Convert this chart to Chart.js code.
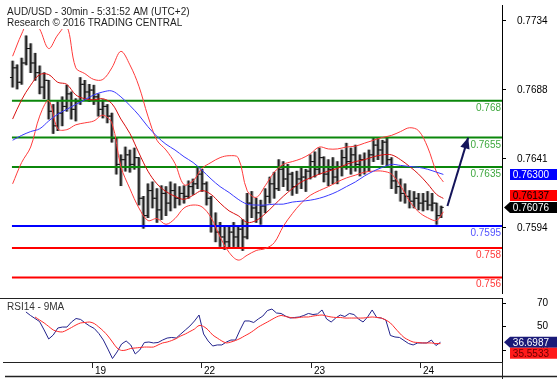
<!DOCTYPE html>
<html><head><meta charset="utf-8">
<script src="https://cdn.jsdelivr.net/npm/chart.js@4.4.1/dist/chart.umd.min.js"></script>
<style>
html,body{margin:0;padding:0;background:#fff;overflow:hidden}
#wrap{position:relative;width:557px;height:379px;background:#fff}
canvas{position:absolute;left:0}
#c1{top:0}
#c2{top:298px}
</style></head><body>
<div id="wrap"><canvas id="c1" width="557" height="298"></canvas><canvas id="c2" width="557" height="81"></canvas></div>
<script>
// ---------- DATA ----------
const titleLine1 = 'AUD/USD - 30min - 5:31:52 AM (UTC+2)';
const titleLine2 = 'Research \u00a9 2016 TRADING CENTRAL';
const rsiTitle = 'RSI14 - 9MA';

// hourly OHLC bars (bar number = 2 x position in list, 30-min units)
const opens = [0.76958,0.77024,0.76926,0.77057,0.77155,0.77057,0.76991,0.76893,0.76939,0.76729,
0.76630,0.76716,0.76762,0.76847,0.76742,0.76794,0.76912,0.76860,0.76873,0.76827,
0.76742,0.76762,0.76696,0.76545,0.76368,0.76400,0.76433,0.76368,0.76414,0.76138,
0.76020,0.76190,0.76138,0.76059,0.76171,0.76105,0.76190,0.76138,0.76171,0.76151,
0.76217,0.76236,0.76302,0.76236,0.76138,0.75954,0.75908,0.75875,0.75842,0.75908,
0.75875,0.75928,0.75875,0.76105,0.76072,0.76039,0.76085,0.76151,0.76236,0.76203,
0.76335,0.76269,0.76302,0.76217,0.76269,0.76282,0.76322,0.76387,0.76335,0.76414,
0.76302,0.76335,0.76282,0.76348,0.76414,0.76387,0.76433,0.76368,0.76400,0.76348,
0.76433,0.76499,0.76466,0.76519,0.76400,0.76256,0.76217,0.76171,0.76151,0.76118,
0.76138,0.76105,0.76118,0.76092,0.76105,0.76020];
const highs = [0.77070,0.77044,0.77090,0.77241,0.77188,0.77123,0.77037,0.76991,0.76939,0.76775,
0.76794,0.76827,0.76906,0.76860,0.76814,0.76958,0.76939,0.76912,0.76906,0.76847,
0.76807,0.76775,0.76716,0.76545,0.76433,0.76486,0.76466,0.76479,0.76414,0.76151,
0.76236,0.76249,0.76203,0.76223,0.76217,0.76249,0.76236,0.76217,0.76223,0.76256,
0.76269,0.76348,0.76335,0.76249,0.76151,0.76039,0.75974,0.75941,0.75954,0.75974,
0.75954,0.75993,0.76171,0.76184,0.76138,0.76125,0.76203,0.76282,0.76315,0.76400,
0.76387,0.76368,0.76315,0.76322,0.76354,0.76335,0.76433,0.76453,0.76479,0.76420,
0.76400,0.76414,0.76387,0.76466,0.76512,0.76479,0.76499,0.76433,0.76446,0.76466,
0.76545,0.76545,0.76532,0.76545,0.76414,0.76322,0.76269,0.76236,0.76190,0.76184,
0.76171,0.76171,0.76184,0.76171,0.76105,0.76085];
const lows = [0.76893,0.76880,0.76912,0.77044,0.76991,0.76939,0.76847,0.76814,0.76676,0.76578,
0.76597,0.76630,0.76729,0.76676,0.76663,0.76775,0.76807,0.76794,0.76775,0.76696,
0.76683,0.76650,0.76519,0.76302,0.76223,0.76322,0.76315,0.76335,0.76092,0.75934,
0.76006,0.76072,0.75974,0.75993,0.76020,0.76052,0.76072,0.76092,0.76105,0.76138,
0.76164,0.76203,0.76184,0.76092,0.75908,0.75842,0.75810,0.75790,0.75796,0.75810,
0.75796,0.75783,0.75862,0.76006,0.75974,0.75961,0.76039,0.76105,0.76138,0.76190,
0.76217,0.76190,0.76158,0.76171,0.76203,0.76184,0.76269,0.76282,0.76302,0.76249,
0.76223,0.76236,0.76236,0.76289,0.76335,0.76302,0.76322,0.76289,0.76302,0.76322,
0.76387,0.76400,0.76368,0.76354,0.76203,0.76171,0.76118,0.76105,0.76072,0.76072,
0.76059,0.76052,0.76059,0.76052,0.75961,0.76006];
const closes = [0.77024,0.76926,0.77057,0.77155,0.77057,0.76991,0.76893,0.76939,0.76729,0.76630,
0.76716,0.76762,0.76847,0.76742,0.76794,0.76912,0.76860,0.76873,0.76827,0.76742,
0.76762,0.76696,0.76545,0.76368,0.76400,0.76433,0.76368,0.76414,0.76138,0.76020,
0.76190,0.76138,0.76059,0.76171,0.76105,0.76190,0.76138,0.76171,0.76151,0.76217,
0.76236,0.76302,0.76236,0.76138,0.75954,0.75908,0.75875,0.75842,0.75908,0.75875,
0.75928,0.75875,0.76105,0.76072,0.76039,0.76085,0.76151,0.76236,0.76203,0.76335,
0.76269,0.76302,0.76217,0.76269,0.76282,0.76322,0.76387,0.76335,0.76414,0.76302,
0.76335,0.76282,0.76348,0.76414,0.76387,0.76433,0.76368,0.76400,0.76348,0.76433,
0.76499,0.76466,0.76519,0.76400,0.76256,0.76217,0.76171,0.76151,0.76118,0.76138,
0.76105,0.76118,0.76092,0.76105,0.76020,0.76076];

// indicator lines sampled every 4 bars (last sample = last bar)
const bbUpper = [0.77103,0.77254,0.77365,0.77287,0.77155,0.77247,0.77306,0.77024,0.76985,0.76945,
0.76945,0.77024,0.77136,0.77044,0.76899,0.76696,0.76532,0.76466,0.76374,0.76230,
0.76256,0.76341,0.76381,0.76414,0.76427,0.76414,0.76190,0.76144,0.76223,0.76315,
0.76368,0.76387,0.76407,0.76440,0.76486,0.76473,0.76473,0.76486,0.76492,0.76512,
0.76532,0.76551,0.76565,0.76591,0.76617,0.76597,0.76486,0.76315,0.76249];
const bbMiddle = [0.76676,0.76807,0.76906,0.76978,0.76978,0.76926,0.76912,0.76840,0.76814,0.76807,
0.76814,0.76781,0.76676,0.76578,0.76446,0.76322,0.76236,0.76184,0.76151,0.76131,
0.76158,0.76190,0.76164,0.76105,0.76052,0.76020,0.75974,0.75987,0.76033,0.76092,
0.76151,0.76203,0.76249,0.76276,0.76302,0.76322,0.76341,0.76368,0.76387,0.76400,
0.76420,0.76433,0.76433,0.76400,0.76354,0.76302,0.76236,0.76164,0.76137];
const bbLower = [0.76236,0.76381,0.76486,0.76696,0.76801,0.76610,0.76604,0.76637,0.76650,0.76663,
0.76702,0.76650,0.76354,0.76203,0.76072,0.75987,0.76000,0.75961,0.76000,0.76072,
0.76092,0.76079,0.76006,0.75875,0.75770,0.75718,0.75751,0.75783,0.75796,0.75836,
0.75947,0.76033,0.76105,0.76158,0.76190,0.76217,0.76249,0.76276,0.76295,0.76315,
0.76322,0.76322,0.76302,0.76223,0.76118,0.76046,0.76006,0.75987,0.76046];
const maLine = [0.76532,0.76565,0.76591,0.76610,0.76663,0.76709,0.76742,0.76775,0.76807,0.76840,
0.76860,0.76867,0.76827,0.76768,0.76702,0.76624,0.76558,0.76505,0.76466,0.76420,
0.76381,0.76328,0.76269,0.76217,0.76177,0.76131,0.76098,0.76092,0.76092,0.76098,
0.76098,0.76112,0.76118,0.76125,0.76138,0.76158,0.76184,0.76217,0.76249,0.76289,
0.76322,0.76348,0.76368,0.76361,0.76354,0.76348,0.76335,0.76315,0.76300];

// RSI(14) and its 9-period MA, one value per hourly bar
const rsi = [null,null,null,null,62.6,59.6,57.0,54.4,47.2,39.5,
42.9,48.9,49.7,49.7,54.0,57.0,56.2,53.2,50.6,48.5,
44.2,38.6,30.9,22.8,28.4,35.2,37.8,34.4,26.7,30.1,
36.5,36.9,36.1,36.5,38.6,40.3,40.8,40.3,43.8,47.2,
50.6,54.9,60.0,43.8,37.8,33.5,34.4,34.4,36.9,38.6,
38.6,47.2,54.9,54.9,53.6,56.6,59.1,63.8,65.1,61.7,
61.3,59.1,57.4,57.9,58.3,59.6,61.3,60.4,60.9,64.3,
56.6,54.0,57.4,60.0,58.7,61.3,60.4,56.6,54.0,58.3,
64.3,57.9,57.4,55.7,42.5,41.2,40.8,38.2,35.6,34.4,
36.1,36.1,36.1,38.6,33.9,36.6987];
const rsiMa = [null,null,null,null,null,null,58.3,55.7,53.2,50.2,
47.2,45.9,45.5,47.2,49.3,51.5,53.2,53.6,54.0,52.7,
49.7,46.3,42.1,36.9,31.8,29.7,30.1,31.4,31.8,32.2,
32.6,32.6,32.6,34.4,36.1,36.9,38.2,39.9,42.1,43.8,
45.9,48.0,51.0,50.2,47.2,42.9,40.3,37.8,36.1,36.9,
38.2,39.9,42.1,44.2,46.8,49.7,51.9,54.0,56.2,58.3,
59.6,58.7,57.9,57.4,57.9,58.3,58.3,59.1,59.6,60.0,
59.1,58.3,57.9,57.9,57.4,57.4,57.4,57.4,57.4,57.9,
58.3,57.9,57.4,55.7,53.2,48.9,44.6,40.8,38.6,36.9,
36.5,36.1,36.1,36.1,35.6,35.5533];

// support / resistance levels
const levels = [0.768, 0.7655, 0.7635, 0.7595, 0.758, 0.756];
const levelLabels = ['0.768','0.7655','0.7635','0.7595','0.758','0.756'];
const levelKinds = ['r','r','r','p','s','s'];

// forecast arrow (bar number, price)
const arrowIdx = [192.8, 202.0];
const arrowPrice = [0.76085, 0.7655];

// axis ticks
const priceTicks = [0.759375, 0.7640625, 0.76875, 0.7734375];
const priceTickLabels = ['0.7594','0.7641','0.7688','0.7734'];
const rsiTicks = [30, 50, 70];
const dayTicks = [37, 85, 133, 181];
const dayLabels = ['19','22','23','24'];

// ---------- RENDER ----------
const FONT = '"Liberation Sans", Arial, Helvetica, sans-serif';
Chart.defaults.font.family = FONT;
Chart.defaults.font.size = 10;
Chart.defaults.color = '#000';

const xMin = -3.38, xMax = 217.0;
const lastBar = 191;
const lineIdx = bbUpper.map((_, k) => k < bbUpper.length - 1 ? k * 4 : lastBar);
const barIdx = closes.map((_, j) => j * 2);
const pts = (arr, idx) => arr.map((v, i) => ({x: idx[i], y: v}));

const levelLine = {r: '#0b870b', p: '#0000ff', s: '#ff0000'};
const levelText = {r: '#3fa83f', p: '#5252ff', s: '#ff3a3a'};

function tag(ctx, yc, text, bg, fg, pointer, left) {
  const h = 11, x0 = left + 8, x1 = 557;
  ctx.fillStyle = bg;
  ctx.beginPath();
  if (pointer) { ctx.moveTo(left + 2, yc); ctx.lineTo(x0, yc - h / 2); }
  else ctx.moveTo(x0, yc - h / 2);
  ctx.lineTo(x1, yc - h / 2); ctx.lineTo(x1, yc + h / 2); ctx.lineTo(x0, yc + h / 2);
  ctx.closePath(); ctx.fill();
  ctx.fillStyle = fg; ctx.textAlign = 'right'; ctx.textBaseline = 'middle';
  ctx.font = '10px ' + FONT;
  ctx.fillText(text, 549, yc + 0.5);
}

const mainPlugin = {
  id: 'mainDeco',
  afterDraw(chart) {
    const {ctx, scales: {x, y}, chartArea: a} = chart;
    ctx.save();
    ctx.font = '10px ' + FONT;
    // level labels
    ctx.textAlign = 'right'; ctx.textBaseline = 'alphabetic';
    levels.forEach((v, i) => {
      ctx.fillStyle = levelText[levelKinds[i]];
      ctx.fillText(levelLabels[i], a.right - 1, y.getPixelForValue(v) + 10);
    });
    // arrow head
    const x0 = x.getPixelForValue(arrowIdx[0]), y0 = y.getPixelForValue(arrowPrice[0]);
    const x1 = x.getPixelForValue(arrowIdx[1]), y1 = y.getPixelForValue(arrowPrice[1]);
    const ang = Math.atan2(y1 - y0, x1 - x0), L = 11, W = 4.8;
    const c = Math.cos(ang), s = Math.sin(ang);
    ctx.fillStyle = '#14145a';
    ctx.beginPath();
    ctx.moveTo(x1, y1);
    ctx.lineTo(x1 - L * c + W * s, y1 - L * s - W * c);
    ctx.lineTo(x1 - L * c - W * s, y1 - L * s + W * c);
    ctx.closePath(); ctx.fill();
    // title
    ctx.textAlign = 'left'; ctx.textBaseline = 'alphabetic';
    [[titleLine1, 15], [titleLine2, 26]].forEach(([t, by]) => {
      const w = ctx.measureText(t).width;
      ctx.fillStyle = '#fff'; ctx.fillRect(5, by - 10, w + 4, 13);
      ctx.fillStyle = '#1e1e1e'; ctx.fillText(t, 7, by);
    });
    // value tags
    const pClose = y.getPixelForValue(closes[closes.length - 1]);
    const pMid = Math.min(y.getPixelForValue(bbMiddle[bbMiddle.length - 1]), pClose - 12);
    const pMa = y.getPixelForValue(maLine[maLine.length - 1]);
    tag(ctx, pMa, maLine[maLine.length - 1].toFixed(5), '#0000ff', '#fff', false, a.right);
    tag(ctx, pMid, bbMiddle[bbMiddle.length - 1].toFixed(5), '#ff0000', '#000', false, a.right);
    tag(ctx, pClose, closes[closes.length - 1].toFixed(5), '#000', '#fff', true, a.right);
    ctx.restore();
  }
};

const yAxisCommon = {
  position: 'right',
  grid: {drawOnChartArea: false, drawTicks: true, tickLength: 4, color: '#000'},
  border: {display: true, color: '#000', width: 1},
  afterFit(s) { s.width = 46; s.paddingTop = 0; s.paddingBottom = 0; }
};

const bars = barIdx.map((xi, j) => ({x: xi, y: [lows[j], highs[j]]}));
const openTicks = barIdx.map((xi, j) => ({x: xi - 0.6, y: opens[j]}));
const closeTicks = barIdx.map((xi, j) => ({x: xi + 0.6, y: closes[j]}));

const mainDatasets = [
  {type: 'bar', data: bars, backgroundColor: '#9a9a9a', barThickness: 3, grouped: false, order: 20},
  {type: 'bar', data: bars, backgroundColor: '#222', barThickness: 1, grouped: false, order: 19},
  {type: 'line', data: openTicks, showLine: false, pointStyle: 'line', pointRadius: 1.3, pointBorderWidth: 1, pointBorderColor: '#111', order: 18},
  {type: 'line', data: closeTicks, showLine: false, pointStyle: 'line', pointRadius: 1.3, pointBorderWidth: 1, pointBorderColor: '#111', order: 18},
  ...levels.map((v, i) => ({type: 'line', data: [{x: -0.3, y: v}, {x: xMax, y: v}], borderColor: levelLine[levelKinds[i]], borderWidth: 2, pointRadius: 0, order: 10})),
  {type: 'line', data: pts(bbUpper, lineIdx), borderColor: '#ff3b3b', borderWidth: 1, pointRadius: 0, tension: 0.35, order: 4},
  {type: 'line', data: pts(bbLower, lineIdx), borderColor: '#ff3b3b', borderWidth: 1, pointRadius: 0, tension: 0.35, order: 4},
  {type: 'line', data: pts(bbMiddle, lineIdx), borderColor: '#d81010', borderWidth: 1, pointRadius: 0, tension: 0.35, order: 3},
  {type: 'line', data: pts(maLine, lineIdx), borderColor: '#3a3aff', borderWidth: 1, pointRadius: 0, tension: 0.35, order: 2},
  {type: 'line', data: pts(arrowPrice, arrowIdx), borderColor: '#14145a', borderWidth: 2, pointRadius: 0, order: 1}
];

new Chart(document.getElementById('c1'), {
  type: 'line',
  data: {datasets: mainDatasets},
  options: {
    responsive: false, animation: false, events: [],
    layout: {padding: {left: 0, right: 9, top: 0, bottom: 0}},
    plugins: {legend: {display: false}, tooltip: {enabled: false}},
    scales: {
      x: {type: 'linear', min: xMin, max: xMax, offset: false, display: false},
      y: Object.assign({}, yAxisCommon, {
        min: 0.754944, max: 0.774508,
        afterBuildTicks(s) { s.ticks = priceTicks.map(v => ({value: v})); },
        ticks: {callback: (v, i) => priceTickLabels[i], padding: 11, crossAlign: 'near', color: '#000', font: {size: 10}}
      })
    }
  },
  plugins: [mainPlugin]
});

const rsiPlugin = {
  id: 'rsiDeco',
  afterDraw(chart) {
    const {ctx, scales: {x, y}, chartArea: a} = chart;
    ctx.save();
    ctx.strokeStyle = '#222'; ctx.lineWidth = 1;
    ctx.beginPath();
    ctx.moveTo(0, 0.5); ctx.lineTo(a.right, 0.5);
    ctx.moveTo(3, a.bottom + 0.5); ctx.lineTo(a.right, a.bottom + 0.5);
    ctx.moveTo(a.right + 0.5, a.bottom); ctx.lineTo(a.right + 0.5, chart.height);
    ctx.stroke();
    ctx.lineWidth = 1.5;
    ctx.beginPath(); ctx.moveTo(5, 78.5); ctx.lineTo(557, 78.5); ctx.stroke();
    // day ticks
    ctx.lineWidth = 1; ctx.font = '10px ' + FONT; ctx.fillStyle = '#000';
    ctx.textAlign = 'left'; ctx.textBaseline = 'alphabetic';
    dayTicks.forEach((d, i) => {
      const px = Math.round(x.getPixelForValue(d)) + 0.5;
      ctx.beginPath(); ctx.moveTo(px, a.bottom); ctx.lineTo(px, a.bottom + 6); ctx.stroke();
      ctx.fillText(dayLabels[i], px + 2.5, a.bottom + 11.5);
    });
    ctx.fillStyle = '#333';
    ctx.fillText(rsiTitle, 7, 11.5);
    // value tags
    const pR = y.getPixelForValue(rsi[rsi.length - 1]);
    const pM = Math.max(y.getPixelForValue(rsiMa[rsiMa.length - 1]), pR + 11);
    tag(ctx, pR, rsi[rsi.length - 1].toFixed(4), '#1a1a78', '#fff', true, a.right);
    tag(ctx, pM, rsiMa[rsiMa.length - 1].toFixed(4), '#ff1a1a', '#6a0000', false, a.right);
    ctx.restore();
  }
};

new Chart(document.getElementById('c2'), {
  type: 'line',
  data: {datasets: [
    {data: pts(rsi, barIdx), borderColor: '#23238c', borderWidth: 1, pointRadius: 0, tension: 0, spanGaps: false, order: 2},
    {data: pts(rsiMa, barIdx), borderColor: '#ff2a2a', borderWidth: 1, pointRadius: 0, tension: 0.3, spanGaps: false, order: 1}
  ]},
  options: {
    responsive: false, animation: false, events: [],
    layout: {padding: {left: 0, right: 9, top: 0, bottom: 17}},
    plugins: {legend: {display: false}, tooltip: {enabled: false}},
    scales: {
      x: {type: 'linear', min: xMin, max: xMax, offset: false, display: false},
      y: Object.assign({}, yAxisCommon, {
        min: 19.83, max: 74.53,
        afterBuildTicks(s) { s.ticks = rsiTicks.map(v => ({value: v})); },
        ticks: {callback: v => String(v), padding: 31, crossAlign: 'far', color: '#000', font: {size: 10}}
      })
    }
  },
  plugins: [rsiPlugin]
});
</script>
</body></html>
